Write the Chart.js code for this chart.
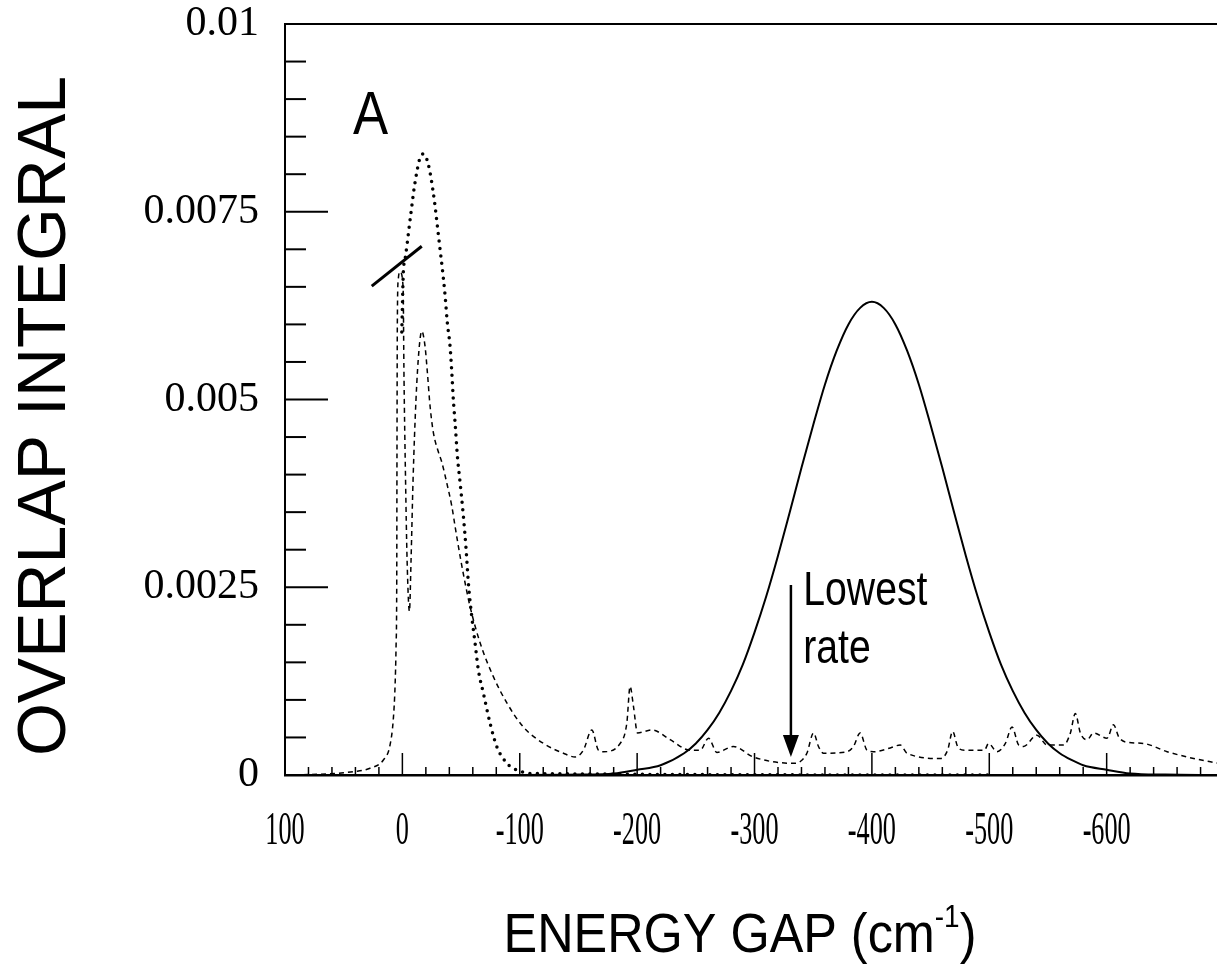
<!DOCTYPE html>
<html>
<head>
<meta charset="utf-8">
<script src="https://cdn.jsdelivr.net/npm/chart.js@4.4.1/dist/chart.umd.min.js"></script>
<style>
  html, body { margin: 0; padding: 0; background: #fff; }
  canvas { display: block; }
</style>
</head>
<body>
<canvas id="overlap" width="1217" height="966"></canvas>
<script>
// values: energy gap (cm-1) vs overlap integral
var gapSolid = [0, -100, -150, -180, -200, -220, -240, -250, -260, -270, -280, -290, -300, -310, -320, -330, -340, -350, -360, -370, -380, -390, -400, -410, -420, -430, -440, -450, -460, -470, -480, -490, -500, -510, -520, -530, -540, -550, -560, -570, -580, -600, -620, -650, -694];
var overlapSolid = [0, 0, 0.000005, 0.00002, 0.00007, 0.00013, 0.00029, 0.00042, 0.0006, 0.00083, 0.00112, 0.00147, 0.0019, 0.00238, 0.00292, 0.0035, 0.00409, 0.00466, 0.0052, 0.00565, 0.006, 0.00622, 0.0063, 0.00622, 0.006, 0.00565, 0.0052, 0.00466, 0.00409, 0.0035, 0.00292, 0.00238, 0.0019, 0.00147, 0.00112, 0.00083, 0.0006, 0.00042, 0.00029, 0.0002, 0.00013, 0.00007, 0.00002, 0.000005, 0];

var gapDotted = [0.5, -0.8, -2.3, -4.2, -5.9, -8, -9.9, -12.2, -14.5, -17.9, -20.8, -23.6, -25.9, -27.8, -29.8, -32.1, -34.4, -36.4, -38.3, -40.6, -42.1, -43.4, -44.9, -46.9, -49.2, -52, -54.3, -56.2, -59.1, -61.9, -64.7, -69, -74.7, -80.4, -89, -97.5, -110, -500];
var overlapDotted = [0.0059, 0.00669, 0.00687, 0.00709, 0.00731, 0.00757, 0.0078, 0.00802, 0.00819, 0.00827, 0.0082, 0.00802, 0.0078, 0.00758, 0.00731, 0.007, 0.00669, 0.00638, 0.00602, 0.00571, 0.00536, 0.005, 0.00469, 0.00424, 0.00389, 0.00344, 0.003, 0.00256, 0.00211, 0.00176, 0.0014, 0.00109, 0.00069, 0.00038, 0.000156, 0.000067, 0.00002, 0];

var gapDashed = [100, 70, 50, 41.8, 27.6, 16.2, 10.5, 7.7, 6.2, 5.4,
  4.8, 4.6, 4.3, 3.5, 2, -0.6, -1.4, -2.7, -4, -6,
  -7.4, -9.1, -11.6, -14.2, -16.5, -19.3, -21.3, -23.6, -26.4, -30.7,
  -33.5, -37.8, -42.1, -44.9, -49.2, -53.4, -57.7, -66.2, -77.5, -89,
  -103, -120.2, -137.2, -147.2, -154.2, -161.4, -167, -171.3, -185.5, -191.2,
  -194, -196.9, -200.3, -212.6, -228.1, -245.2, -253.7, -260.8, -268, -282,
  -299, -333, -339, -344.6, -350.3, -354.5, -358.8, -378.7, -384.3, -390,
  -395.8, -401.4, -415.6, -424.2, -429.9, -458.8, -464.5, -468.8, -473, -478.7,
  -495.8, -499.4, -506.6, -513.7, -519.4, -525, -529.2, -540.6, -549.2, -563.4,
  -569.1, -573.3, -577.6, -583.3, -588.9, -600.3, -605.9, -610.2, -615.9, -631.5,
  -651.5, -674.1, -694];
var overlapDashed = [0, 0.00001, 0.00003, 0.000044, 0.00009, 0.0002, 0.0004, 0.00075, 0.0012, 0.0017,
  0.0026, 0.0043, 0.006, 0.0066, 0.0067, 0.0065, 0.00527, 0.00393, 0.00287, 0.00218,
  0.00287, 0.00393, 0.005, 0.00567, 0.00591, 0.00571, 0.00536, 0.00491, 0.00456, 0.0043,
  0.00417, 0.00389, 0.00358, 0.00331, 0.00291, 0.00256, 0.00224, 0.00176, 0.00131, 0.00096,
  0.00064, 0.00042, 0.00029, 0.00024, 0.00033, 0.0006, 0.00033, 0.00031, 0.00042, 0.00069,
  0.00118, 0.00091, 0.00056, 0.0006, 0.00047, 0.00033, 0.00033, 0.00049, 0.0003, 0.00038,
  0.00024, 0.000156, 0.00018, 0.00029, 0.00056, 0.00038, 0.00029, 0.00031, 0.00038, 0.00056,
  0.00033, 0.00031, 0.00036, 0.0004, 0.00029, 0.00022, 0.00033, 0.00058, 0.00038, 0.00033,
  0.00033, 0.00042, 0.00031, 0.00042, 0.00064, 0.0004, 0.00038, 0.00053, 0.0004, 0.0004,
  0.00056, 0.00082, 0.00056, 0.00047, 0.00056, 0.00049, 0.00067, 0.00051, 0.00044, 0.00042,
  0.00031, 0.00022, 0.00016];

// the short slanted stroke near the first peak
var gapSlash = [26.1, -16.5];
var overlapSlash = [0.00651, 0.00704];

var xTickValues = [100, 0, -100, -200, -300, -400, -500, -600];
var xTickLabels = ['100', '0', '-100', '-200', '-300', '-400', '-500', '-600'];
var yTickValues = [0, 0.0025, 0.005, 0.0075, 0.01];
var yTickLabels = ['0', '0.0025', '0.005', '0.0075', '0.01'];
var xMinorStep = 20;
var yMinorStep = 0.0005;

// annotation anchors in data units
var notes = {
  aGap: 42, aOverlap: 0.00853,
  textGap: -341.5, line1: 0.002267, line2: 0.001493,
  arrowGap: -331, arrowTop: 0.00253, arrowTip: 0.00024
};

function points(xs, ys) {
  return xs.map(function (x, i) { return { x: x, y: ys[i] }; });
}

function squeezed(ctx, text, x, y, sx, align) {
  ctx.save();
  ctx.translate(x, y);
  ctx.scale(sx, 1);
  ctx.textAlign = align;
  ctx.fillText(text, 0, 0);
  ctx.restore();
}

var frameAndNotes = {
  id: 'frameAndNotes',
  beforeDatasetsDraw: function (chart) {
    var ctx = chart.ctx, area = chart.chartArea;
    var xs = chart.scales.x, ys = chart.scales.y;
    ctx.save();
    ctx.strokeStyle = '#000';
    ctx.lineWidth = 2;
    ctx.beginPath();
    ctx.moveTo(area.left, area.top);
    ctx.lineTo(area.right, area.top);
    ctx.stroke();

    // inward ticks on the y axis
    for (var i = 0; i <= 20; i++) {
      var py = ys.getPixelForValue(i * yMinorStep);
      var len = (i % 5 === 0) ? 43 : 21;
      ctx.beginPath();
      ctx.moveTo(area.left, py);
      ctx.lineTo(area.left + len, py);
      ctx.stroke();
    }
    // inward ticks on the x axis
    ctx.lineWidth = 1.5;
    for (var g = 100; g >= -680; g -= xMinorStep) {
      var px = xs.getPixelForValue(g);
      var h = (g % 100 === 0) ? 22 : 8;
      ctx.beginPath();
      ctx.moveTo(px, area.bottom);
      ctx.lineTo(px, area.bottom - h);
      ctx.stroke();
    }
    ctx.restore();
  },
  afterDraw: function (chart) {
    var ctx = chart.ctx;
    var xs = chart.scales.x, ys = chart.scales.y;
    ctx.save();
    ctx.fillStyle = '#000';
    ctx.strokeStyle = '#000';

    // x tick labels, narrow serif
    ctx.font = '46px "Liberation Serif"';
    ctx.textBaseline = 'middle';
    xTickValues.forEach(function (v, i) {
      squeezed(ctx, xTickLabels[i], xs.getPixelForValue(v), 832, 0.57, 'center');
    });

    // x title with superscript
    ctx.textBaseline = 'alphabetic';
    var sx = 0.9;
    ctx.font = '56px "Liberation Sans"';
    var w1 = ctx.measureText('ENERGY GAP (cm').width;
    var w3 = ctx.measureText(')').width;
    ctx.font = '31px "Liberation Sans"';
    var w2 = ctx.measureText('-1').width;
    var start = 740 - (w1 + w2 + w3) * sx / 2;
    ctx.font = '56px "Liberation Sans"';
    squeezed(ctx, 'ENERGY GAP (cm', start, 952, sx, 'left');
    ctx.font = '31px "Liberation Sans"';
    squeezed(ctx, '-1', start + w1 * sx, 927, sx, 'left');
    ctx.font = '56px "Liberation Sans"';
    squeezed(ctx, ')', start + (w1 + w2) * sx, 952, sx, 'left');

    // y title
    ctx.save();
    ctx.translate(65, 416);
    ctx.rotate(-Math.PI / 2);
    ctx.font = '68px "Liberation Sans"';
    ctx.textAlign = 'center';
    ctx.fillText('OVERLAP INTEGRAL', 0, 0);
    ctx.restore();

    // panel letter
    ctx.font = '62px "Liberation Sans"';
    squeezed(ctx, 'A', xs.getPixelForValue(notes.aGap), ys.getPixelForValue(notes.aOverlap), 0.85, 'left');

    // "Lowest rate" with arrow
    ctx.font = '49px "Liberation Sans"';
    var tx = xs.getPixelForValue(notes.textGap);
    squeezed(ctx, 'Lowest', tx, ys.getPixelForValue(notes.line1), 0.8, 'left');
    squeezed(ctx, 'rate', tx, ys.getPixelForValue(notes.line2), 0.8, 'left');

    var ax = xs.getPixelForValue(notes.arrowGap);
    var top = ys.getPixelForValue(notes.arrowTop);
    var tip = ys.getPixelForValue(notes.arrowTip);
    ctx.lineWidth = 2.5;
    ctx.beginPath();
    ctx.moveTo(ax, top);
    ctx.lineTo(ax, tip - 18);
    ctx.stroke();
    ctx.beginPath();
    ctx.moveTo(ax - 8, tip - 22);
    ctx.lineTo(ax + 8, tip - 22);
    ctx.lineTo(ax, tip);
    ctx.closePath();
    ctx.fill();
    ctx.restore();
  }
};

var ctx = document.getElementById('overlap').getContext('2d');
var chart = new Chart(ctx, {
  type: 'line',
  data: {
    datasets: [{
      label: 'dashed',
      data: points(gapDashed, overlapDashed),
      borderColor: '#000',
      borderWidth: 1.5,
      borderDash: [5, 4],
      cubicInterpolationMode: 'monotone',
      pointRadius: 0
    }, {
      label: 'dotted',
      data: points(gapDotted, overlapDotted),
      borderColor: '#000',
      borderWidth: 3.5,
      borderDash: [0, 7.5],
      borderCapStyle: 'round',
      cubicInterpolationMode: 'monotone',
      pointRadius: 0
    }, {
      label: 'solid',
      data: points(gapSolid, overlapSolid),
      borderColor: '#000',
      borderWidth: 2,
      cubicInterpolationMode: 'monotone',
      pointRadius: 0
    }, {
      label: 'slash',
      data: points(gapSlash, overlapSlash),
      borderColor: '#000',
      borderWidth: 3,
      pointRadius: 0
    }]
  },
  options: {
    responsive: false,
    animation: false,
    devicePixelRatio: 1,
    layout: { padding: { top: 24, right: 0, left: 0, bottom: 0 } },
    plugins: { legend: { display: false }, tooltip: { enabled: false } },
    scales: {
      x: {
        type: 'linear',
        reverse: true,
        min: -694,
        max: 100,
        grid: { display: false },
        border: { display: true, color: '#000', width: 2.5 },
        ticks: { display: false },
        afterFit: function (scale) { scale.height = 191; }
      },
      y: {
        min: 0,
        max: 0.01,
        grid: { display: false },
        border: { display: true, color: '#000', width: 2 },
        afterBuildTicks: function (scale) {
          scale.ticks = yTickValues.map(function (v) { return { value: v }; });
        },
        ticks: {
          color: '#000',
          padding: 18,
          font: { family: 'Liberation Serif', size: 42, lineHeight: 1 },
          callback: function (value, index) { return yTickLabels[index]; }
        },
        afterFit: function (scale) {
          scale.width = 285;
          scale.paddingTop = 0;
          scale.paddingBottom = 0;
        }
      }
    }
  },
  plugins: [frameAndNotes]
});
</script>
</body>
</html>
